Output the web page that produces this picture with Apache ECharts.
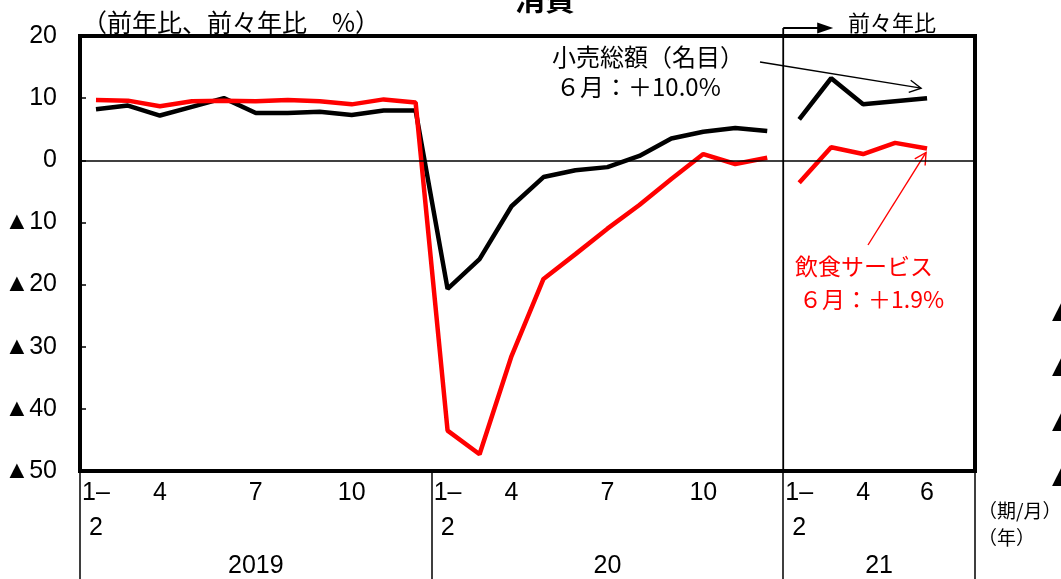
<!DOCTYPE html>
<html>
<head>
<meta charset="utf-8">
<script src="https://cdn.jsdelivr.net/npm/echarts@6/dist/echarts.min.js"></script>
<style>
  html, body { margin: 0; padding: 0; background: #fff; }
  #chart { width: 1061px; height: 579px; }
</style>
</head>
<body>
<div id="chart"></div>
<script>
// Periods (year.month); 2021 block keeps one empty slot after June
const periods = [
  '2019.1-2', '2019.3', '2019.4', '2019.5', '2019.6', '2019.7', '2019.8', '2019.9', '2019.10', '2019.11', '2019.12',
  '2020.1-2', '2020.3', '2020.4', '2020.5', '2020.6', '2020.7', '2020.8', '2020.9', '2020.10', '2020.11', '2020.12',
  '2021.1-2', '2021.3', '2021.4', '2021.5', '2021.6', '2021.7'
];
const tickLabels = [
  '1–\n2', '', '4', '', '', '7', '', '', '10', '', '',
  '1–\n2', '', '4', '', '', '7', '', '', '10', '', '',
  '1–\n2', '', '4', '', '6', ''
];
const yearLabels = ['2019', '20', '21'];
const yearSlots = [11, 11, 6];

// 小売総額（名目）: 2019–2020 前年比, 2021 前々年比
const retail1920 = [8.2, 8.8, 7.2, 8.6, 10.0, 7.6, 7.6, 7.8, 7.3, 8.0, 8.0,
                    -20.7, -15.9, -7.4, -2.7, -1.6, -1.1, 0.7, 3.5, 4.6, 5.2, 4.7];
const retail21 = [6.6, 13.2, 9.0, 9.5, 10.0];
// 飲食サービス
const dining1920 = [9.7, 9.6, 8.7, 9.5, 9.6, 9.5, 9.7, 9.5, 9.0, 9.8, 9.3,
                    -43.5, -47.3, -31.5, -19.1, -15.1, -11.0, -7.2, -3.0, 1.0, -0.6, 0.4];
const dining21 = [-3.6, 2.1, 1.0, 2.8, 1.9];

const yMin = -50, yMax = 20, yStep = 10;

const NUM_FONT = '"Liberation Sans Narrow", "Liberation Sans", Arial, sans-serif';
const JP_FONT = '"Noto Sans CJK JP", "Noto Sans", sans-serif';

const n = periods.length;
function place(values, start) {
  const out = new Array(n).fill(null);
  values.forEach((v, i) => { out[start + i] = v; });
  return out;
}

// Block boundaries and centres (in slot units)
const bounds = [0];
const centres = [];
yearSlots.forEach(s => { const a = bounds[bounds.length - 1]; centres.push(a + s / 2); bounds.push(a + s); });
const start21 = bounds[2];

const chart = echarts.init(document.getElementById('chart'), null, { renderer: 'canvas' });

const lineSeries = (name, data, color) => ({
  name, type: 'line', data, xAxisIndex: 0, yAxisIndex: 0,
  symbol: 'none', connectNulls: false, silent: true,
  lineStyle: { color, width: 4.5 },
  z: color === '#ff0000' ? 4 : 3
});

const sRetailA = lineSeries('小売総額', place(retail1920, 0), '#000000');
sRetailA.markLine = {
  silent: true, symbol: 'none', label: { show: false },
  lineStyle: { color: '#000', width: 1.6, type: 'solid' },
  data: [{ yAxis: 0 }]
};

chart.setOption({
  animation: false,
  backgroundColor: '#ffffff',
  grid: {
    left: 80, right: 86, top: 36, bottom: 106,
    show: true, borderColor: '#000', borderWidth: 4, backgroundColor: 'transparent'
  },
  xAxis: [
    {
      type: 'category', data: periods, boundaryGap: true, position: 'bottom',
      axisLine: { show: false, onZero: false },
      axisTick: {
        show: true, length: 108, inside: false,
        interval: (i) => bounds.slice(0, -1).includes(i),
        lineStyle: { color: '#000', width: 1.5 }
      },
      axisLabel: {
        interval: 0, margin: 5, color: '#000',
        fontFamily: NUM_FONT, fontSize: 25, lineHeight: 35,
        formatter: (v, i) => tickLabels[i]
      },
      splitLine: { show: false }
    },
    {
      type: 'value', min: 0, max: n, interval: 0.5, position: 'bottom',
      axisLine: { show: false, onZero: false }, axisTick: { show: false }, splitLine: { show: false },
      axisLabel: {
        margin: 82, color: '#000', fontFamily: NUM_FONT, fontSize: 25, lineHeight: 26,
        showMinLabel: true, showMaxLabel: true,
        formatter: (v) => { const k = centres.indexOf(v); return k >= 0 ? yearLabels[k] : ''; }
      }
    }
  ],
  yAxis: [{
    type: 'value', min: yMin, max: yMax, interval: yStep,
    axisLine: { show: false },
    axisTick: { show: true, inside: true, length: 6, lineStyle: { color: '#000', width: 1.5 } },
    splitLine: { show: false },
    axisLabel: {
      margin: 23, color: '#000', fontFamily: NUM_FONT, fontSize: 25,
      formatter: (v) => v < 0 ? '▲' + (-v) : String(v)
    }
  }],
  series: [
    sRetailA,
    lineSeries('小売総額21', place(retail21, start21), '#000000'),
    lineSeries('飲食サービス', place(dining1920, 0), '#ff0000'),
    lineSeries('飲食サービス21', place(dining21, start21), '#ff0000')
  ]
});

// ---- annotations positioned from the axes ----
const px = (i, v) => chart.convertToPixel({ xAxisIndex: 0, yAxisIndex: 0 }, [i, v]);
const xb = chart.convertToPixel({ xAxisIndex: 1 }, start21);
const yBottom = chart.convertToPixel({ yAxisIndex: 0 }, yMin);

function openHead(tip, from, len, deg) {
  const a = Math.atan2(tip[1] - from[1], tip[0] - from[0]);
  const r = deg * Math.PI / 180;
  return [
    [tip[0] - len * Math.cos(a - r), tip[1] - len * Math.sin(a - r)],
    tip,
    [tip[0] - len * Math.cos(a + r), tip[1] - len * Math.sin(a + r)]
  ];
}

const last = retail21.length - 1;
const pR = px(start21 + last, retail21[last]);
const pD = px(start21 + last, dining21[last]);
const tipR = [pR[0] - 6, pR[1] - 10];
const fromR = [760, 62];
const tipD = [pD[0] - 1, pD[1] + 4];
const fromD = [868, 245];

const txt = (x, y, text, opt) => ({
  type: 'text', x, y, silent: true,
  style: Object.assign({ text, fill: '#000', font: '22px ' + JP_FONT, textAlign: 'left', textVerticalAlign: 'middle' }, opt || {})
});

const graphics = [
  // boundary between 前年比 and 前々年比, with marker arrow above the frame
  { type: 'line', silent: true, shape: { x1: xb, y1: 28, x2: xb, y2: yBottom }, style: { stroke: '#000', lineWidth: 1.8 } },
  { type: 'line', silent: true, shape: { x1: xb, y1: 28, x2: xb + 36, y2: 28 }, style: { stroke: '#000', lineWidth: 1.8 } },
  { type: 'polygon', silent: true, shape: { points: [[xb + 34, 22.5], [xb + 50, 28], [xb + 34, 33.5]] }, style: { fill: '#000' } },
  txt(848, 23, '前々年比', { font: '22px ' + JP_FONT }),

  // title (top of canvas)
  txt(545, 14, '消費', { font: 'bold 30px ' + JP_FONT, textAlign: 'center', textVerticalAlign: 'bottom' }),
  // unit
  txt(82, 22, '（前年比、前々年比　%）', { font: '25px ' + JP_FONT }),

  // 小売総額 callout
  txt(552, 57, '小売総額（名目）', { font: '24px ' + JP_FONT }),
  txt(556, 87, '６月：＋10.0%', { font: '24px ' + JP_FONT }),
  { type: 'line', silent: true, shape: { x1: fromR[0], y1: fromR[1], x2: tipR[0], y2: tipR[1] }, style: { stroke: '#000', lineWidth: 1.4 } },
  { type: 'polyline', silent: true, shape: { points: openHead(tipR, fromR, 13, 28) }, style: { stroke: '#000', lineWidth: 1.4, fill: null } },

  // 飲食サービス callout
  txt(795, 266, '飲食サービス', { font: '23px ' + JP_FONT, fill: '#ff0000' }),
  txt(799, 299, '６月：＋1.9%', { font: '23px ' + JP_FONT, fill: '#ff0000' }),
  { type: 'line', silent: true, shape: { x1: fromD[0], y1: fromD[1], x2: tipD[0], y2: tipD[1] }, style: { stroke: '#ff0000', lineWidth: 1.4 } },
  { type: 'polyline', silent: true, shape: { points: openHead(tipD, fromD, 13, 28) }, style: { stroke: '#ff0000', lineWidth: 1.4, fill: null } },

  // axis captions
  txt(978, 511, '（期/月）', { font: '19px ' + JP_FONT }),
  txt(978, 538, '（年）', { font: '19px ' + JP_FONT })
];

// neighbouring panel's axis markers at the right edge
[311, 366, 421, 476].forEach(y => graphics.push(txt(1052, y, '▲', { font: '25px "DejaVu Sans", sans-serif' })));

chart.setOption({ graphic: graphics });
</script>
</body>
</html>
